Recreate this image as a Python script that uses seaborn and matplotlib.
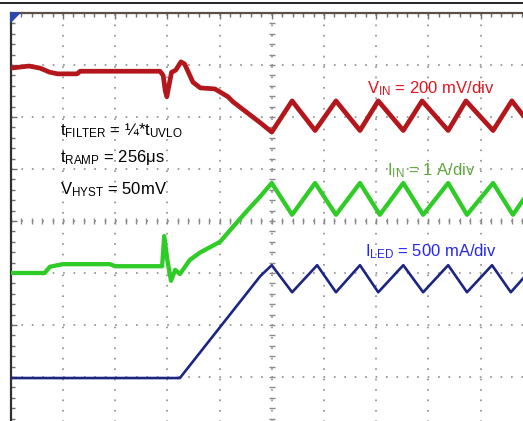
import numpy as np
import pandas as pd
import matplotlib.pyplot as plt
import seaborn as sns
from matplotlib.lines import Line2D
from matplotlib.patches import Polygon

# Datos (tiempo y amplitud en divisiones de pantalla)
t_vin = [0, 0.35, 0.56, 0.75, 0.9, 1.27, 1.33, 2.86, 2.92, 2.96, 2.99, 3.03, 3.08, 3.16,
         3.26, 3.33, 3.49, 3.63, 3.91, 4.16, 4.26, 4.78, 5.0, 5.39, 5.83, 6.23, 6.69,
         7.04, 7.52, 7.88, 8.38, 8.72, 9.24, 9.6, 10.04]
vin = [6.94, 6.98, 6.94, 6.86, 6.83, 6.83, 6.88, 6.88, 6.8, 6.5, 6.39, 6.6, 6.86, 6.9,
       7.06, 7.02, 6.67, 6.56, 6.54, 6.39, 6.29, 5.89, 5.71, 6.31, 5.74, 6.31, 5.74,
       6.31, 5.74, 6.31, 5.74, 6.31, 5.74, 6.31, 5.74]

t_iin = [0, 0.65, 0.75, 1.0, 1.9, 2.0, 2.9, 2.94, 3.0, 3.07, 3.15, 3.24, 3.43, 3.62,
         4.01, 4.26, 4.54, 4.77, 5.0, 5.39, 5.83, 6.23, 6.69, 7.07, 7.52, 7.90, 8.38,
         8.74, 9.24, 9.62, 10.04]
iin = [3.0, 3.0, 3.12, 3.17, 3.17, 3.13, 3.13, 3.71, 3.25, 2.85, 3.06, 2.98, 3.25, 3.39,
       3.6, 3.89, 4.21, 4.46, 4.73, 4.12, 4.73, 4.12, 4.73, 4.12, 4.73, 4.12, 4.73,
       4.12, 4.73, 4.12, 4.73]

t_led = [0, 3.24, 4.78, 5.0, 5.39, 5.87, 6.23, 6.69, 7.04, 7.52, 7.90, 8.38, 8.74,
         9.22, 9.58, 10.04]
iled = [0.98, 0.98, 2.94, 3.15, 2.63, 3.15, 2.63, 3.15, 2.63, 3.15, 2.63, 3.15, 2.63,
        3.15, 2.63, 3.15]

sns.set_style('white')
plt.rcParams['font.family'] = ['Liberation Sans', 'DejaVu Sans']
plt.rcParams['mathtext.fontset'] = 'custom'
plt.rcParams['mathtext.rm'] = 'Liberation Sans'

fig = plt.figure(figsize=(5.23, 4.21), dpi=100)
ax = fig.add_axes([10.75 / 523, (421 - 429) / 421, 522 / 523, 416 / 421])

df_vin = pd.DataFrame({'t': t_vin, 'v': vin})
df_iin = pd.DataFrame({'t': t_iin, 'v': iin})
df_led = pd.DataFrame({'t': t_led, 'v': iled})

sns.lineplot(data=df_vin, x='t', y='v', ax=ax, color='#b3171b', lw=3.4,
             estimator=None, sort=False, zorder=5)
sns.lineplot(data=df_iin, x='t', y='v', ax=ax, color='#2fcb26', lw=3.1,
             estimator=None, sort=False, zorder=5)
sns.lineplot(data=df_led, x='t', y='v', ax=ax, color='#1c2682', lw=1.9,
             estimator=None, sort=False, zorder=5)

ax.set_xlim(0, 10)
ax.set_ylim(0, 8)
ax.set_xlabel('')
ax.set_ylabel('')

# Retícula del osciloscopio
ax.set_xticks(np.arange(0, 11, 1))
ax.set_yticks(np.arange(0, 9, 1))
ax.set_xticks(np.arange(0, 10.01, 0.2), minor=True)
ax.set_yticks(np.arange(0, 8.01, 0.2), minor=True)
ax.set_xticklabels([])
ax.set_yticklabels([])
ax.grid(True, which='major', color='#8c8c8c', lw=1.2, ls=(0, (1, 5.25)), zorder=1)
ax.tick_params(which='both', direction='in', left=True, top=True, bottom=False,
               right=False, color='#707070', width=1)
ax.tick_params(which='major', length=4)
ax.tick_params(which='minor', length=3)

for s in ['right', 'bottom']:
    ax.spines[s].set_visible(False)
ax.spines['left'].set_color('#303030')
ax.spines['left'].set_linewidth(1.6)
ax.spines['top'].set_color('#5b5048')
ax.spines['top'].set_linewidth(1.6)

# Ejes centrales con marcas
minor_x = np.arange(0, 10.01, 0.2)
minor_y = np.arange(0, 8.01, 0.2)
ax.plot(minor_x, np.full_like(minor_x, 4), ls='none', marker='|', ms=5,
        mew=1, color='#8a8a8a', zorder=2, clip_on=False)
ax.plot(np.full_like(minor_y, 5), minor_y, ls='none', marker='_', ms=5,
        mew=1, color='#8a8a8a', zorder=2)

# Marcador de referencia
ax.add_patch(Polygon([(0, 1), (0.017, 1), (0, 1 - 0.022)], closed=True,
                     transform=ax.transAxes, color='#2a48b0', zorder=6, clip_on=False))

# Textos
fs = 12
ax.text(0.94, 5.65, r'$\mathregular{t_{FILTER}}$ = ¼*$\mathregular{t_{UVLO}}$',
        fontsize=fs, color='black', va='baseline', zorder=7)
ax.text(0.94, 5.13, r'$\mathregular{t_{RAMP}}$ = 256μs',
        fontsize=fs, color='black', va='baseline', zorder=7)
ax.text(0.94, 4.52, r'$\mathregular{V_{HYST}}$ = 50mV',
        fontsize=fs, color='black', va='baseline', zorder=7)
ax.text(6.82, 6.46, r'$\mathregular{V_{IN}}$ = 200 mV/div',
        fontsize=fs, color='#e3141e', va='baseline', zorder=7)
ax.text(7.21, 4.88, r'$\mathregular{I_{IN}}$ = 1 A/div',
        fontsize=fs, color='#5ea83a', va='baseline', zorder=7)
ax.text(6.79, 3.33, r'$\mathregular{I_{LED}}$ = 500 mA/div',
        fontsize=fs, color='#2626f2', va='baseline', zorder=7)

fig.add_artist(Line2D([0, 1], [1 - 3 / 421, 1 - 3 / 421], transform=fig.transFigure,
                      color='black', lw=1.2))

fig.savefig('out.png', dpi=100)
